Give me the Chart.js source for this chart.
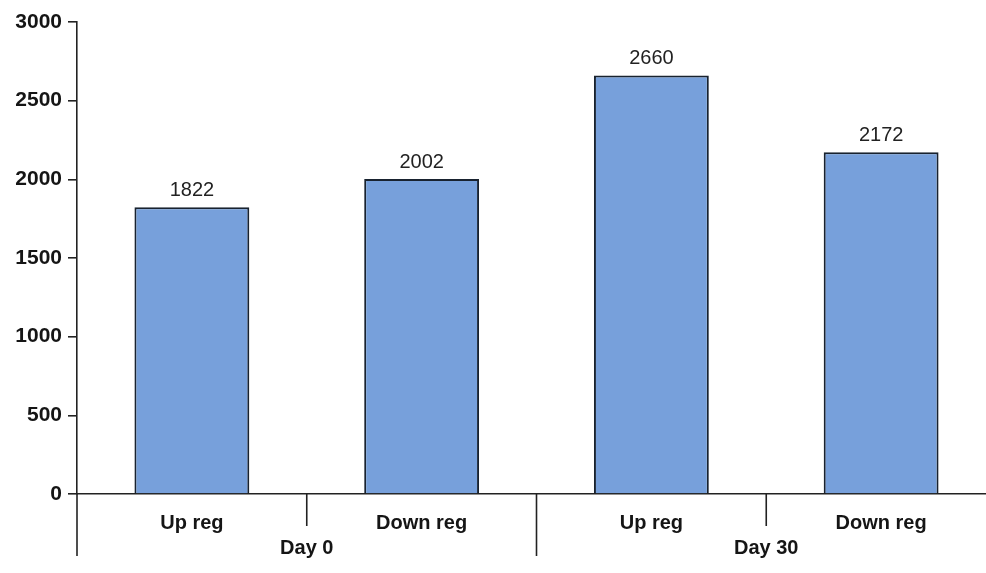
<!DOCTYPE html>
<html>
<head>
<meta charset="utf-8">
<script src="https://cdn.jsdelivr.net/npm/chart.js@4/dist/chart.umd.min.js"></script>
<style>
  html, body { margin: 0; padding: 0; background: #ffffff; overflow: hidden; }
  #wrap { width: 1000px; height: 573px; }
</style>
</head>
<body>
<div id="wrap"><canvas id="c" width="1000" height="573"></canvas></div>
<script>
// Regulated gene counts per time point
const categories = ['Up reg', 'Down reg', 'Up reg', 'Down reg'];
const groups = ['Day 0', 'Day 30'];
const counts = [1822, 2002, 2660, 2172];
const yTicks = [0, 500, 1000, 1500, 2000, 2500, 3000];

const AXIS = '#222222';
const TEXT = '#151515';
const FONT = '"Liberation Sans", Arial, sans-serif';

// Value labels above each bar
const valueLabels = {
  id: 'valueLabels',
  afterDatasetsDraw(chart) {
    const ctx = chart.ctx;
    const meta = chart.getDatasetMeta(0);
    ctx.save();
    ctx.fillStyle = '#222';
    ctx.font = '20px ' + FONT;
    ctx.textAlign = 'center';
    ctx.textBaseline = 'middle';
    meta.data.forEach((bar, i) => {
      ctx.fillText(String(counts[i]), bar.x, bar.y - 17);
    });
    ctx.restore();
  }
};

// Separators between the categories and between the groups
const groupDividers = {
  id: 'groupDividers',
  afterDraw(chart) {
    const ctx = chart.ctx;
    const x = chart.scales.x;
    const y = chart.scales.y;
    const base = y.getPixelForValue(0);
    const step = x.getPixelForValue(1) - x.getPixelForValue(0);
    ctx.save();
    ctx.strokeStyle = AXIS;
    ctx.lineWidth = 1.6;
    for (let i = 0; i <= categories.length; i++) {
      const px = x.getPixelForValue(i) - step / 2;
      const groupEdge = i % 2 === 0;
      ctx.beginPath();
      ctx.moveTo(px, base);
      ctx.lineTo(px, base + (groupEdge ? 62 : 32));
      ctx.stroke();
    }
    ctx.restore();
  }
};

const tickFont = { family: FONT, size: 20, weight: 'bold' };

new Chart(document.getElementById('c'), {
  type: 'bar',
  data: {
    labels: categories,
    datasets: [{
      data: counts,
      backgroundColor: '#77a0db',
      borderColor: '#18222f',
      borderWidth: 2,
      categoryPercentage: 1,
      barPercentage: 0.5
    }]
  },
  options: {
    responsive: false,
    animation: false,
    layout: { padding: { top: 22, right: 4, left: 0, bottom: 0 } },
    plugins: { legend: { display: false }, tooltip: { enabled: false } },
    scales: {
      x: {
        position: 'bottom',
        grid: { display: false, drawTicks: false },
        border: { display: true, color: AXIS, width: 1.6 },
        ticks: { color: TEXT, font: tickFont, padding: 17, maxRotation: 0 },
        afterFit(s) { s.height = 40; }
      },
      x2: {
        type: 'category',
        labels: groups,
        position: 'bottom',
        offset: true,
        grid: { display: false, drawTicks: false },
        border: { display: false },
        ticks: { color: TEXT, font: tickFont, padding: 2, maxRotation: 0 },
        afterFit(s) { s.height = 39; }
      },
      y: {
        min: 0,
        max: 3000,
        afterBuildTicks(s) { s.ticks = yTicks.map(v => ({ value: v })); },
        grid: { drawOnChartArea: false, drawTicks: true, tickLength: 9, color: AXIS, lineWidth: 1.6 },
        border: { display: true, color: AXIS, width: 1.6 },
        ticks: { color: TEXT, font: { family: FONT, size: 21, weight: 'bold' }, padding: 6, callback: v => String(v) },
        afterFit(s) { s.width = 77; }
      }
    }
  },
  plugins: [valueLabels, groupDividers]
});
</script>
</body>
</html>
